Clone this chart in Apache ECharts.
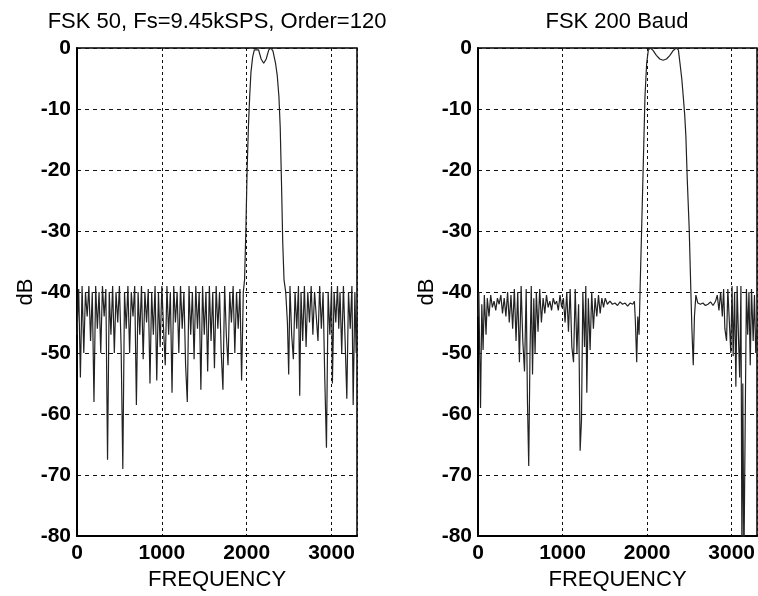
<!DOCTYPE html>
<html>
<head>
<meta charset="utf-8">
<script src="https://cdn.jsdelivr.net/npm/echarts@6/dist/echarts.min.js"></script>
<style>
html,body{margin:0;padding:0;background:#fff;}
#chart{width:758px;height:596px;}
</style>
</head>
<body>
<div id="chart"></div>
<script>
// ---- Data ----
const titles = ['FSK 50, Fs=9.45kSPS, Order=120', 'FSK 200 Baud'];
const xTicks = [0, 1000, 2000, 3000];
const yTicks = [0, -10, -20, -30, -40, -50, -60, -70, -80];

const leftFreq = [0,20,40,60,80,100,120,140,160,180,200,220,240,260,280,300,320,340,360,380,400,420,440,460,480,500,520,540,560,580,600,620,640,660,680,700,720,740,760,780,800,820,840,860,880,900,920,940,960,980,1000,1020,1040,1060,1080,1100,1120,1140,1160,1180,1200,1220,1240,1260,1280,1300,1320,1340,1360,1380,1400,1420,1440,1460,1480,1500,1520,1540,1560,1580,1600,1620,1640,1660,1680,1700,1720,1740,1760,1780,1800,1820,1840,1860,1880,1900,1920,1940,1960,
  1975,1990,2005,2020,2035,2050,2070,2090,2110,2140,2170,2200,2230,2260,2285,2310,2340,2360,2380,2395,2410,2425,2440,
  2460,2480,2495,2510,2530,2550,2570,2590,2610,2625,2640,2660,2680,2700,2720,2740,2760,2780,2800,2820,2840,2860,2880,2900,2920,2940,2960,2980,3000,3010,3030,3050,3070,3085,3100,3120,3140,3160,3180,3200,3220,3240,3255,3275,3290,3300];
const leftDb = [-47,-39.5,-54,-39,-50,-40,-44,-39,-48,-40,-58,-39,-46,-40,-50,-39,-44,-39.5,-67.5,-40,-47,-39,-50,-40,-45,-39,-49,-69,-40,-46,-39,-50,-40,-44,-39,-58.5,-40,-47,-39,-51,-40,-45,-39.5,-55,-40,-47,-39,-54.5,-40,-49,-39,-46,-52,-39,-47,-40,-56.5,-39,-45,-40,-50,-39,-46,-40,-52,-58,-39,-47,-40,-51,-39,-46,-40,-56,-39,-47,-40,-53,-39,-48,-40,-52.5,-39,-46,-40,-50,-56,-39,-47,-52,-40,-45,-39,-50,-40,-46,-39.5,-54.5,-40,
  -38,-30,-20,-13,-8,-4,-1.5,-0.3,0,-0.3,-1.8,-2.5,-1.8,-0.3,0,-0.5,-2.5,-4.5,-8,-13,-22,-32,-38,
  -40,-45,-53.5,-39,-47,-51,-40,-46,-39,-57,-40,-48,-39,-49,-40,-45,-39,-47,-40,-44,-48,-39,-46,-40,-54,-65.5,-40,-47,-39,-55,-40,-45,-39,-46,-40,-50,-39,-48,-57.5,-40,-46,-39,-58.5,-40,-50,-44];

const rightFreq = [0,10,20,30,45,60,75,95,110,130,150,170,190,210,230,250,270,290,310,330,350,370,390,410,430,450,470,490,510,530,550,570,585,600,615,630,645,660,675,690,710,730,750,770,790,810,830,850,870,890,910,930,950,970,990,1010,1030,1050,1070,1090,1110,1130,1150,1170,1190,1208,1224,1240,1260,1275,1287,1305,1326,1345,1365,1385,1405,1425,1445,1465,1485,1505,1530,1560,1590,1620,1650,1680,1710,1740,1770,1800,1830,1850,1862,1877,1890,1905,
  1920,1935,1955,1975,1995,2015,2040,2070,2110,2150,2190,2230,2270,2310,2345,2370,2389,2410,2428,2445,2459,2475,2498,2518,2530,2546,2560,2577,
  2600,2630,2660,2690,2720,2750,2780,2810,2830,2850,2870,2890,2905,2920,2940,2955,2970,2990,3005,3018,3035,3050,3065,3080,3095,3110,3122,3132,3145,3160,3175,3190,3205,3220,3235,3255,3270,3285,3300];
const rightDb = [-44,-40,-50,-59,-42,-49.5,-40.5,-47,-41,-44,-40.5,-42.5,-41.5,-43,-41,-42,-40.5,-43.5,-41,-44,-40,-45,-40.5,-46,-39.5,-48,-40,-51.5,-39,-48,-53,-39.5,-58,-68.5,-50,-39,-53.5,-41,-50,-40,-46.5,-39.5,-45,-41,-43.5,-40.5,-42.5,-41.5,-43,-41,-42,-41.5,-43,-40.5,-42.5,-41,-45,-40,-46.5,-39.5,-49,-51.5,-39.5,-50,-42,-66,-61,-40,-49,-39,-56.5,-41,-49.5,-40,-46,-41,-44,-40.5,-43.5,-41,-42.5,-41,-42,-41.5,-42,-41.8,-42.2,-41.6,-42,-41.8,-42.3,-41.8,-42,-41.5,-45,-51.5,-44,-47,
  -38,-30,-19,-8,-2.5,-0.3,0,-0.4,-1.2,-1.8,-2,-1.8,-1.2,-0.4,0,-0.3,-2.5,-5,-8,-11,-14.5,-21.5,-29.6,-40,-46,-52,-44,-40.5,
  -41.8,-42,-41.8,-42.2,-42,-41.6,-42.2,-41.5,-40.5,-43,-40,-44,-39.5,-46,-48,-39.5,-44,-50,-39,-50.5,-40,-55.5,-39,-47,-54,-39,-85,-55,-85,-62,-39.5,-47,-40,-52,-39.5,-48,-40.5,-50,-46];

// ---- Chart ----
const leftPairs = leftFreq.map((f, i) => [f, leftDb[i]]);
const rightPairs = rightFreq.map((f, i) => [f, rightDb[i]]);

const FONT = 'Liberation Sans, Arial, Helvetica, sans-serif';
const grids = [
  { left: 77, top: 48, width: 280, height: 492 },
  { left: 478, top: 48, width: 279, height: 492 }
];

function xAxisFor(idx) {
  return {
    gridIndex: idx, type: 'value', min: 0, max: 3300, interval: 1000,
    name: 'FREQUENCY', nameLocation: 'middle', nameGap: 31,
    nameTextStyle: { fontFamily: FONT, fontSize: 22, color: '#000' },
    axisLine: { show: true, onZero: false, lineStyle: { color: '#000', width: 2 } },
    axisTick: { show: false },
    axisLabel: { fontFamily: FONT, fontSize: 21, fontWeight: 'bold', color: '#000', margin: 7,
      showMaxLabel: false,
      formatter: v => xTicks.includes(v) ? String(v) : '' },
    splitLine: { show: true, lineStyle: { color: '#111', width: 1, type: [3, 3] } }
  };
}
function yAxisFor(idx) {
  return {
    gridIndex: idx, type: 'value', min: -80, max: 0, interval: 10,
    name: 'dB', nameLocation: 'middle', nameGap: 40, nameRotate: 90,
    nameTextStyle: { fontFamily: FONT, fontSize: 22, color: '#000' },
    axisLine: { show: true, onZero: false, lineStyle: { color: '#000', width: 2 } },
    axisTick: { show: false },
    axisLabel: { fontFamily: FONT, fontSize: 21, fontWeight: 'bold', color: '#000', margin: 6,
      showMinLabel: true, showMaxLabel: true,
      formatter: v => yTicks.includes(v) ? String(v) : '' },
    splitLine: { show: true, lineStyle: { color: '#111', width: 1, type: [4, 4] } }
  };
}

const chart = echarts.init(document.getElementById('chart'), null, { renderer: 'canvas' });
chart.setOption({
  animation: false,
  backgroundColor: '#fff',
  title: [
    { text: titles[0], left: 217, top: 11, textAlign: 'center', padding: 0,
      textStyle: { fontFamily: FONT, fontSize: 22, fontWeight: 'normal', color: '#000' } },
    { text: titles[1], left: 617, top: 11, textAlign: 'center', padding: 0,
      textStyle: { fontFamily: FONT, fontSize: 22, fontWeight: 'normal', color: '#000' } }
  ],
  grid: grids.map(g => Object.assign({ show: true, borderColor: '#000', borderWidth: 1.5, backgroundColor: 'transparent' }, g)),
  xAxis: [xAxisFor(0), xAxisFor(1)],
  yAxis: [yAxisFor(0), yAxisFor(1)],
  series: [
    { type: 'line', xAxisIndex: 0, yAxisIndex: 0, data: leftPairs, showSymbol: false, clip: true,
      lineStyle: { color: '#222', width: 1.2 } },
    { type: 'line', xAxisIndex: 1, yAxisIndex: 1, data: rightPairs, showSymbol: false, clip: true,
      lineStyle: { color: '#222', width: 1.2 } }
  ]
});
</script>
</body>
</html>
